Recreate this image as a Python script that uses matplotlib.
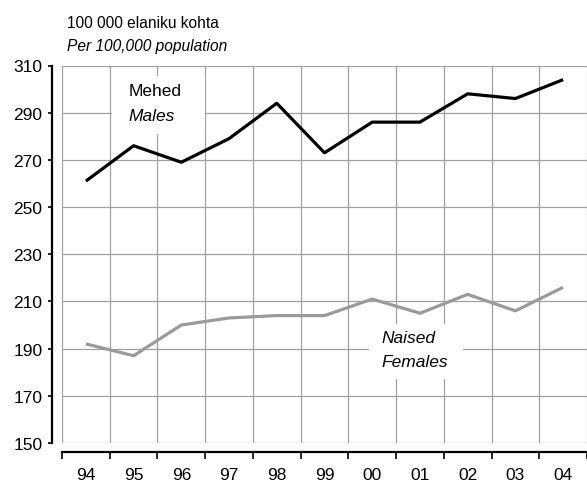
import numpy as np
import matplotlib
matplotlib.use("Agg")
import matplotlib.pyplot as plt
from matplotlib.patches import Rectangle

plt.rcParams["font.family"] = ["Liberation Sans", "DejaVu Sans"]

# ── Data ─────────────────────────────────────────────────────────────────
years   = ["94", "95", "96", "97", "98", "99", "00", "01", "02", "03", "04"]
males   = [261, 276, 269, 279, 294, 273, 286, 286, 298, 296, 304]
females = [192, 187, 200, 203, 204, 204, 211, 205, 213, 206, 216]
yticks  = [150, 170, 190, 210, 230, 250, 270, 290, 310]

W, H = 587, 485
fig = plt.figure(figsize=(W / 100, H / 100), dpi=100)
ax = fig.add_axes([62 / W, 1 - 444 / H, (587 - 62) / W, (444 - 66.5) / H])

x = np.arange(len(years))
ax.plot(x, males, color="black", lw=2.3, solid_capstyle="butt", zorder=3)
ax.plot(x, females, color="#9a9a9a", lw=2.3, solid_capstyle="butt", zorder=3)

ax.set_xlim(-0.5, 10.37)
ax.set_ylim(150, 310)

# grid: vertical lines between years, horizontal at y ticks
ax.set_yticks(yticks)
ax.set_xticks(np.arange(-0.5, 10.6, 1.0))
ax.set_xticks(x, minor=True)
ax.set_xticklabels([])
ax.set_xticklabels(years, minor=True)
ax.grid(True, which="major", color="#a0a0a0", lw=0.9, zorder=0)
ax.tick_params(axis="x", which="minor", length=0, labelsize=12.5, pad=10.5)
ax.tick_params(axis="x", which="major", length=5, width=1.2, direction="out")
ax.tick_params(axis="y", length=3, width=1.2, labelsize=12.5, pad=4)

for s in ["top", "right"]:
    ax.spines[s].set_visible(False)
ax.spines["left"].set_position(("outward", 7.2))
ax.spines["bottom"].set_position(("outward", 6.7))
ax.spines["left"].set_linewidth(1.6)
ax.spines["bottom"].set_linewidth(1.6)

# series labels on white patches
ax.add_patch(Rectangle((0.556, 281.0), 1.946, 24.5, facecolor="white",
                       edgecolor="none", zorder=2))
ax.add_patch(Rectangle((5.94, 177.1), 1.966, 23.3, facecolor="white",
                       edgecolor="none", zorder=2))
ax.text(0.887, 299.2, "Mehed", fontsize=12.5, va="center", ha="left", zorder=4)
ax.text(0.887, 288.6, "Males", fontsize=12.5, style="italic", va="center",
        ha="left", zorder=4)
ax.text(6.187, 194.9, "Naised", fontsize=12.5, style="italic", va="center",
        ha="left", zorder=4)
ax.text(6.187, 184.75, "Females", fontsize=12.5, style="italic", va="center",
        ha="left", zorder=4)

# unit heading
fig.text(67 / W, 1 - 23 / H, "100 000 elaniku kohta", fontsize=11.2, va="center")
fig.text(67 / W, 1 - 47 / H, "Per 100,000 population", fontsize=11.2,
         style="italic", va="center")

plt.savefig("out.png", dpi=100)
plt.close()
